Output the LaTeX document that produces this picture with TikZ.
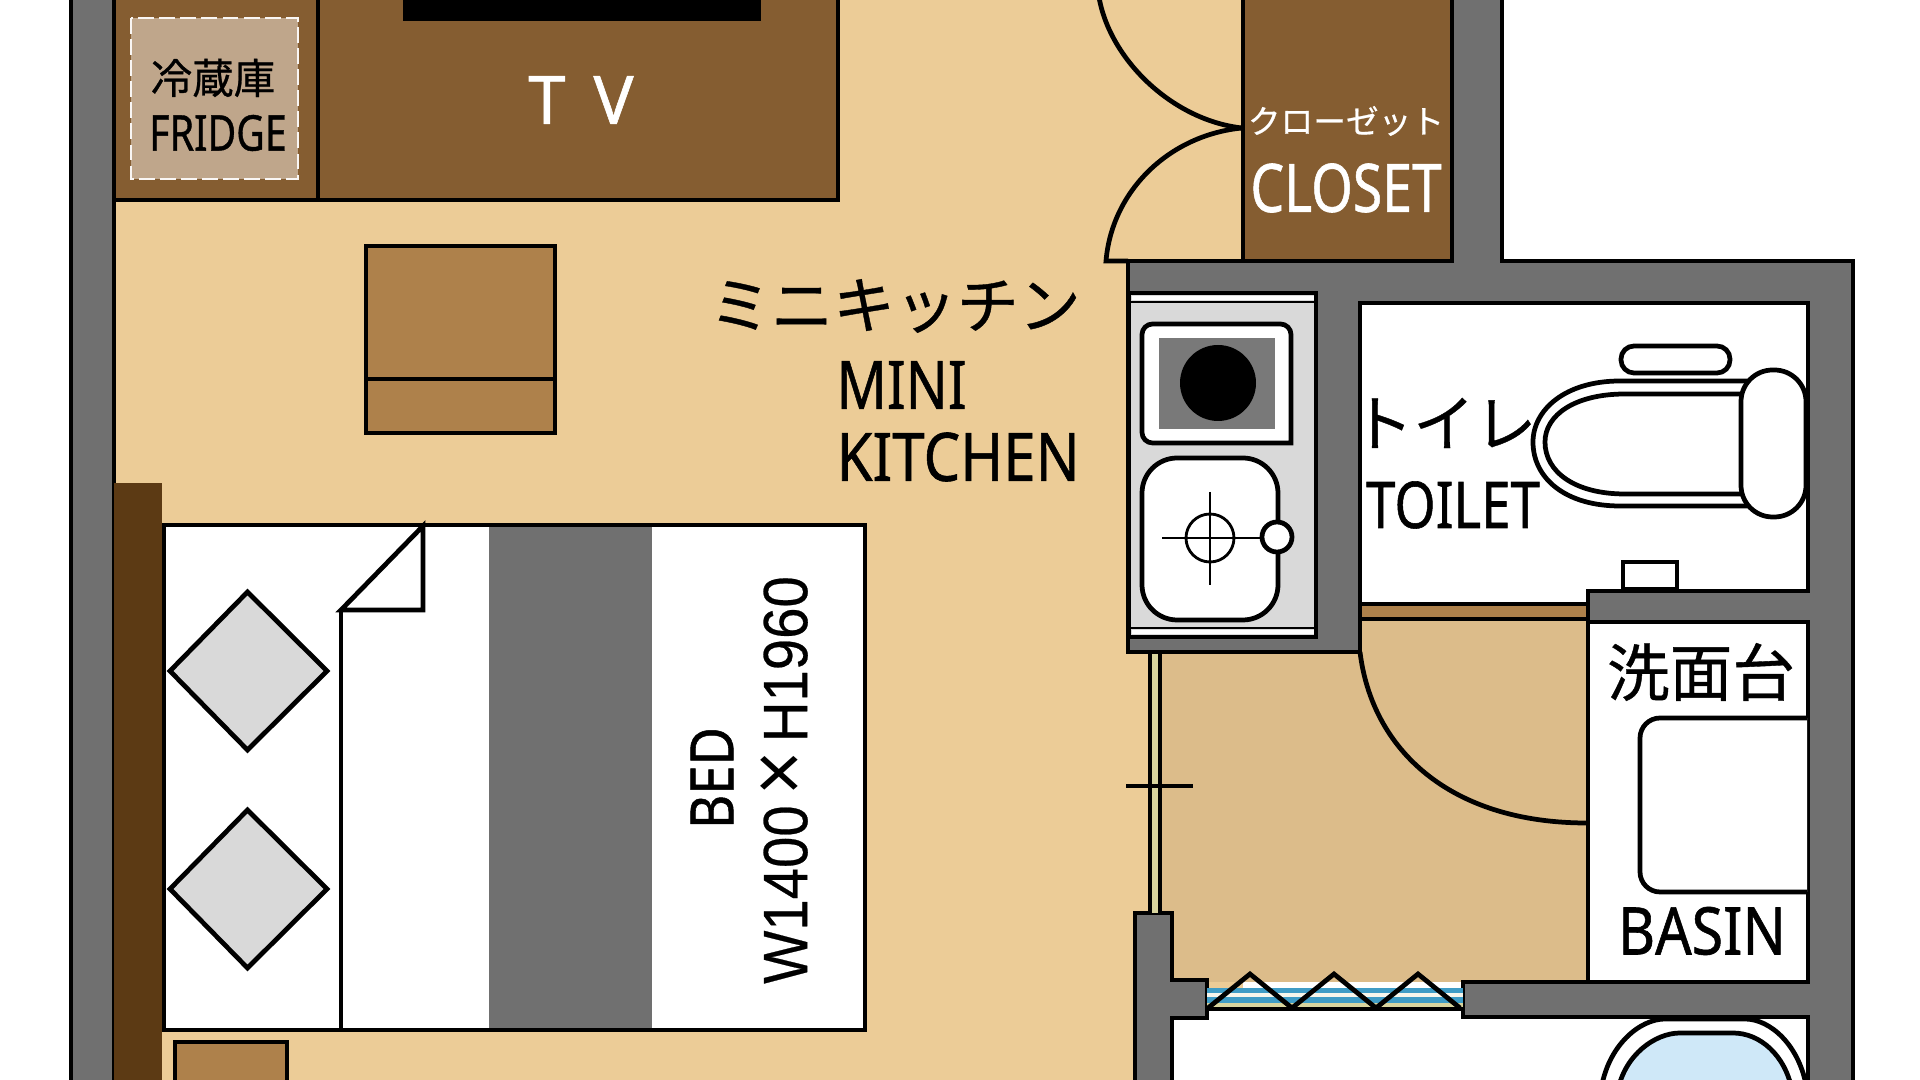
\documentclass[tikz,border=0pt]{standalone}
\usepackage{fontspec}
\setmainfont[FakeBold=0.9]{Noto Sans}
\newfontfamily\cjk[FakeBold=0.6]{Noto Sans CJK JP}
\newfontfamily\arialish[FakeBold=0.4]{Liberation Sans}
\newfontfamily\arialthin{Liberation Sans}
\newcommand{\fs}[1]{\fontsize{#1}{#1}\selectfont}
\definecolor{floorcol}{HTML}{ECCC97}
\definecolor{entrycol}{HTML}{DCBC8A}
\definecolor{wallcol}{HTML}{707070}
\definecolor{woodcol}{HTML}{855D31}
\definecolor{deskcol}{HTML}{AE814B}
\definecolor{headcol}{HTML}{5C3A14}
\definecolor{fridgecol}{HTML}{BFA68B}
\definecolor{sheetcol}{HTML}{D9D9D9}
\definecolor{stripecol}{HTML}{3F9CC6}
\definecolor{palecol}{HTML}{D8D49E}
\definecolor{tubcol}{HTML}{CFE8F8}
\tikzset{
    outline/.style={draw=black,line width=1.35pt,line join=miter},
    thinline/.style={draw=black,line width=0.8pt},
    lab/.style={inner sep=0pt,text=black},
    whitelab/.style={inner sep=0pt,text=white}
}
\begin{document}
\begin{tikzpicture}[x=0.01cm,y=-0.01cm]
    \useasboundingbox (0,0) rectangle (1920,1080);
    \begin{scope}
        \clip (0,0) rectangle (1920,1080);
        % floors
        \fill[floorcol] (114,-10) rectangle (1243,1090);
        \fill[entrycol] (1162,619) rectangle (1588,982);
        % rooms
        \draw[outline,fill=white] (1360,303) rectangle (1808,604);
        \draw[outline,fill=deskcol] (1360,604) rectangle (1588,619);
        \draw[outline,fill=white] (1588,622) rectangle (1808,982);
        \draw[outline,fill=white] (1172,1009) rectangle (1808,1100);
        \draw[outline,fill=woodcol] (1243,-10) rectangle (1452,261);
        % walls
        \draw[outline,fill=wallcol] (71,-10) rectangle (114,1090);
        \draw[outline,fill=wallcol] (1452,-10) -- (1502,-10) -- (1502,261) -- (1853,261) -- (1853,1090)
            -- (1808,1090) -- (1808,1017) -- (1463,1017) -- (1463,982) -- (1808,982) -- (1808,622)
            -- (1588,622) -- (1588,591) -- (1808,591) -- (1808,303) -- (1360,303) -- (1360,652)
            -- (1128,652) -- (1128,261) -- (1452,261) -- cycle;
        \draw[outline,fill=wallcol] (1135,1090) -- (1135,913) -- (1172,913) -- (1172,980) -- (1207,980)
            -- (1207,1018) -- (1172,1018) -- (1172,1090);
        % cabinets
        \draw[outline,fill=woodcol] (114,-10) rectangle (838,200);
        \draw[outline] (318,-10) -- (318,200);
        \fill[black] (403,-10) rectangle (761,21);
        \fill[fridgecol] (131,18) rectangle (298,179);
        \draw[white!90!fridgecol,line width=0.8pt,dash pattern=on 4.5pt off 1.5pt] (131,18) rectangle (298,179);
        \fill[headcol] (114,483) rectangle (162,1090);
        \draw[outline,fill=deskcol] (366,246) rectangle (555,433);
        \draw[outline] (366,379) -- (555,379);
        \draw[outline,fill=deskcol] (175,1042) rectangle (287,1100);
        % bed
        \draw[outline,fill=white] (164,525) rectangle (865,1030);
        \fill[wallcol] (489,527) rectangle (652,1028);
        \draw[outline] (341,1030) -- (341,610);
        \draw[outline,fill=white] (341,610) -- (423,526) -- (423,610) -- cycle;
        \foreach \y in {671,889}
            \draw[outline,fill=sheetcol] (170,\y) -- (247.5,\y-79) -- (327,\y) -- (247.5,\y+79) -- cycle;
        % closet doors
        \draw[outline] (1098,-10) .. controls (1105,55) and (1170,120) .. (1242,128);
        \draw[outline] (1242,128) .. controls (1170,135) and (1112,190) .. (1106,261) -- (1128,261);
        % kitchen
        \draw[outline,fill=sheetcol] (1129,293) rectangle (1316,637);
        \fill[white] (1132,296) rectangle (1314,300);
        \draw[thinline] (1129,302) -- (1316,302);
        \fill[white] (1132,630) rectangle (1314,634);
        \draw[thinline] (1129,628) -- (1316,628);
        \draw[outline,fill=white] (1291,443) [rounded corners=3pt] -- (1142,443) -- (1142,324) -- (1291,324) [sharp corners] -- cycle;
        \fill[gray!95!black] (1159,338) rectangle (1275,429);
        \fill[black] (1218,383) circle (38);
        \draw[outline,fill=white,rounded corners=10pt] (1142,458) rectangle (1278,620);
        \draw[thinline] (1162,538) -- (1261,538);
        \draw[thinline] (1210,492) -- (1210,585);
        \draw[thinline] (1210,538) circle (24);
        \draw[outline,fill=white] (1277,537) circle (15);
        % toilet
        \draw[outline,fill=white] (1623,562) rectangle (1677,589);
        \draw[outline,fill=white,rounded corners=3.7pt] (1621,346) rectangle (1730,373);
        \draw[outline,fill=white] (1748,381) -- (1620,381) .. controls (1565,381) and (1533,410) .. (1533,442)
            .. controls (1533,478) and (1565,506) .. (1620,506) -- (1748,506);
        \draw[outline] (1743,394) -- (1625,394) .. controls (1575,394) and (1545,415) .. (1545,442)
            .. controls (1545,472) and (1575,494) .. (1625,494) -- (1743,494);
        \draw[outline,fill=white,rounded corners=9pt] (1741,370) rectangle (1806,517);
        % basin
        \draw[outline,fill=white] (1807,718) [rounded corners=5.7pt] -- (1640,718) -- (1640,892) [sharp corners] -- (1807,892);
        % entry door
        \draw[outline] (1360,652) .. controls (1372,750) and (1450,823) .. (1587,823);
        % sliding partition
        \fill[palecol] (1150,654) rectangle (1160,913);
        \draw[outline] (1150,654) -- (1150,913);
        \draw[outline] (1160,654) -- (1160,913);
        \draw[outline] (1126,786) -- (1193,786);
        % folding door
        \fill[stripecol] (1207,988) rectangle (1463,1003);
        \fill[white!80!palecol] (1207,993) rectangle (1463,997);
        \fill[palecol] (1207,1003) rectangle (1463,1007);
        \foreach \x in {1208,1292,1376}
            \draw[outline] (\x,1008) -- (\x+42,974) -- (\x+84,1008);
        \draw[outline] (1207,1009) -- (1463,1009);
        % bath
        \draw[outline,fill=white] (1601,1090) .. controls (1608,1045) and (1640,1019) .. (1665,1019) -- (1745,1019)
            .. controls (1770,1019) and (1800,1045) .. (1807,1090);
        \draw[outline,fill=tubcol] (1618,1090) .. controls (1625,1055) and (1655,1033) .. (1680,1033) -- (1733,1033)
            .. controls (1760,1033) and (1785,1055) .. (1792,1090);
    \end{scope}
    % labels
    \node[lab,font=\cjk\fs{11.8}] (fridgejp) at (213,78) {冷蔵庫};
    \node[lab,font=\fs{14},xscale=0.8] (fridgeen) at (218,133) {FRIDGE};
    \node[whitelab,font=\fs{19}] (tv) at (581,100) {T\hspace{0.42em}V};
    \node[lab,font=\cjk\fs{17.6}] (kitchenjp) at (895,306) {ミニキッチン};
    \node[lab,font=\fs{19},xscale=0.83,anchor=west] (mini) at (836,385) {MINI};
    \node[lab,font=\fs{19},xscale=0.87,anchor=west] (kitchen) at (836,457) {KITCHEN};
    \node[whitelab,font=\cjk\fs{9.3}] (closetjp) at (1346,121) {クローゼット};
    \node[whitelab,font=\fs{19},xscale=0.8] (closet) at (1346,188) {CLOSET};
    \node[lab,font=\cjk\fs{17.5}] (toiletjp) at (1444,423) {トイレ};
    \node[lab,font=\fs{18.3},xscale=0.82] (toilet) at (1453,505) {TOILET};
    \node[lab,font=\cjk\fs{17.8}] (basinjp) at (1701,672) {洗面台};
    \node[lab,font=\fs{18.7},xscale=0.87] (basin) at (1702,931) {BASIN};
    \node[lab,font=\fs{17},rotate=90,xscale=0.88] (bed) at (712,778) {BED};
    \node[lab,font=\arialish\fs{17.8},rotate=90,xscale=0.9] (bedsize) at (784,780) {W1400\,{\arialthin\fs{24}×}\,H1960};
\end{tikzpicture}
\end{document}
